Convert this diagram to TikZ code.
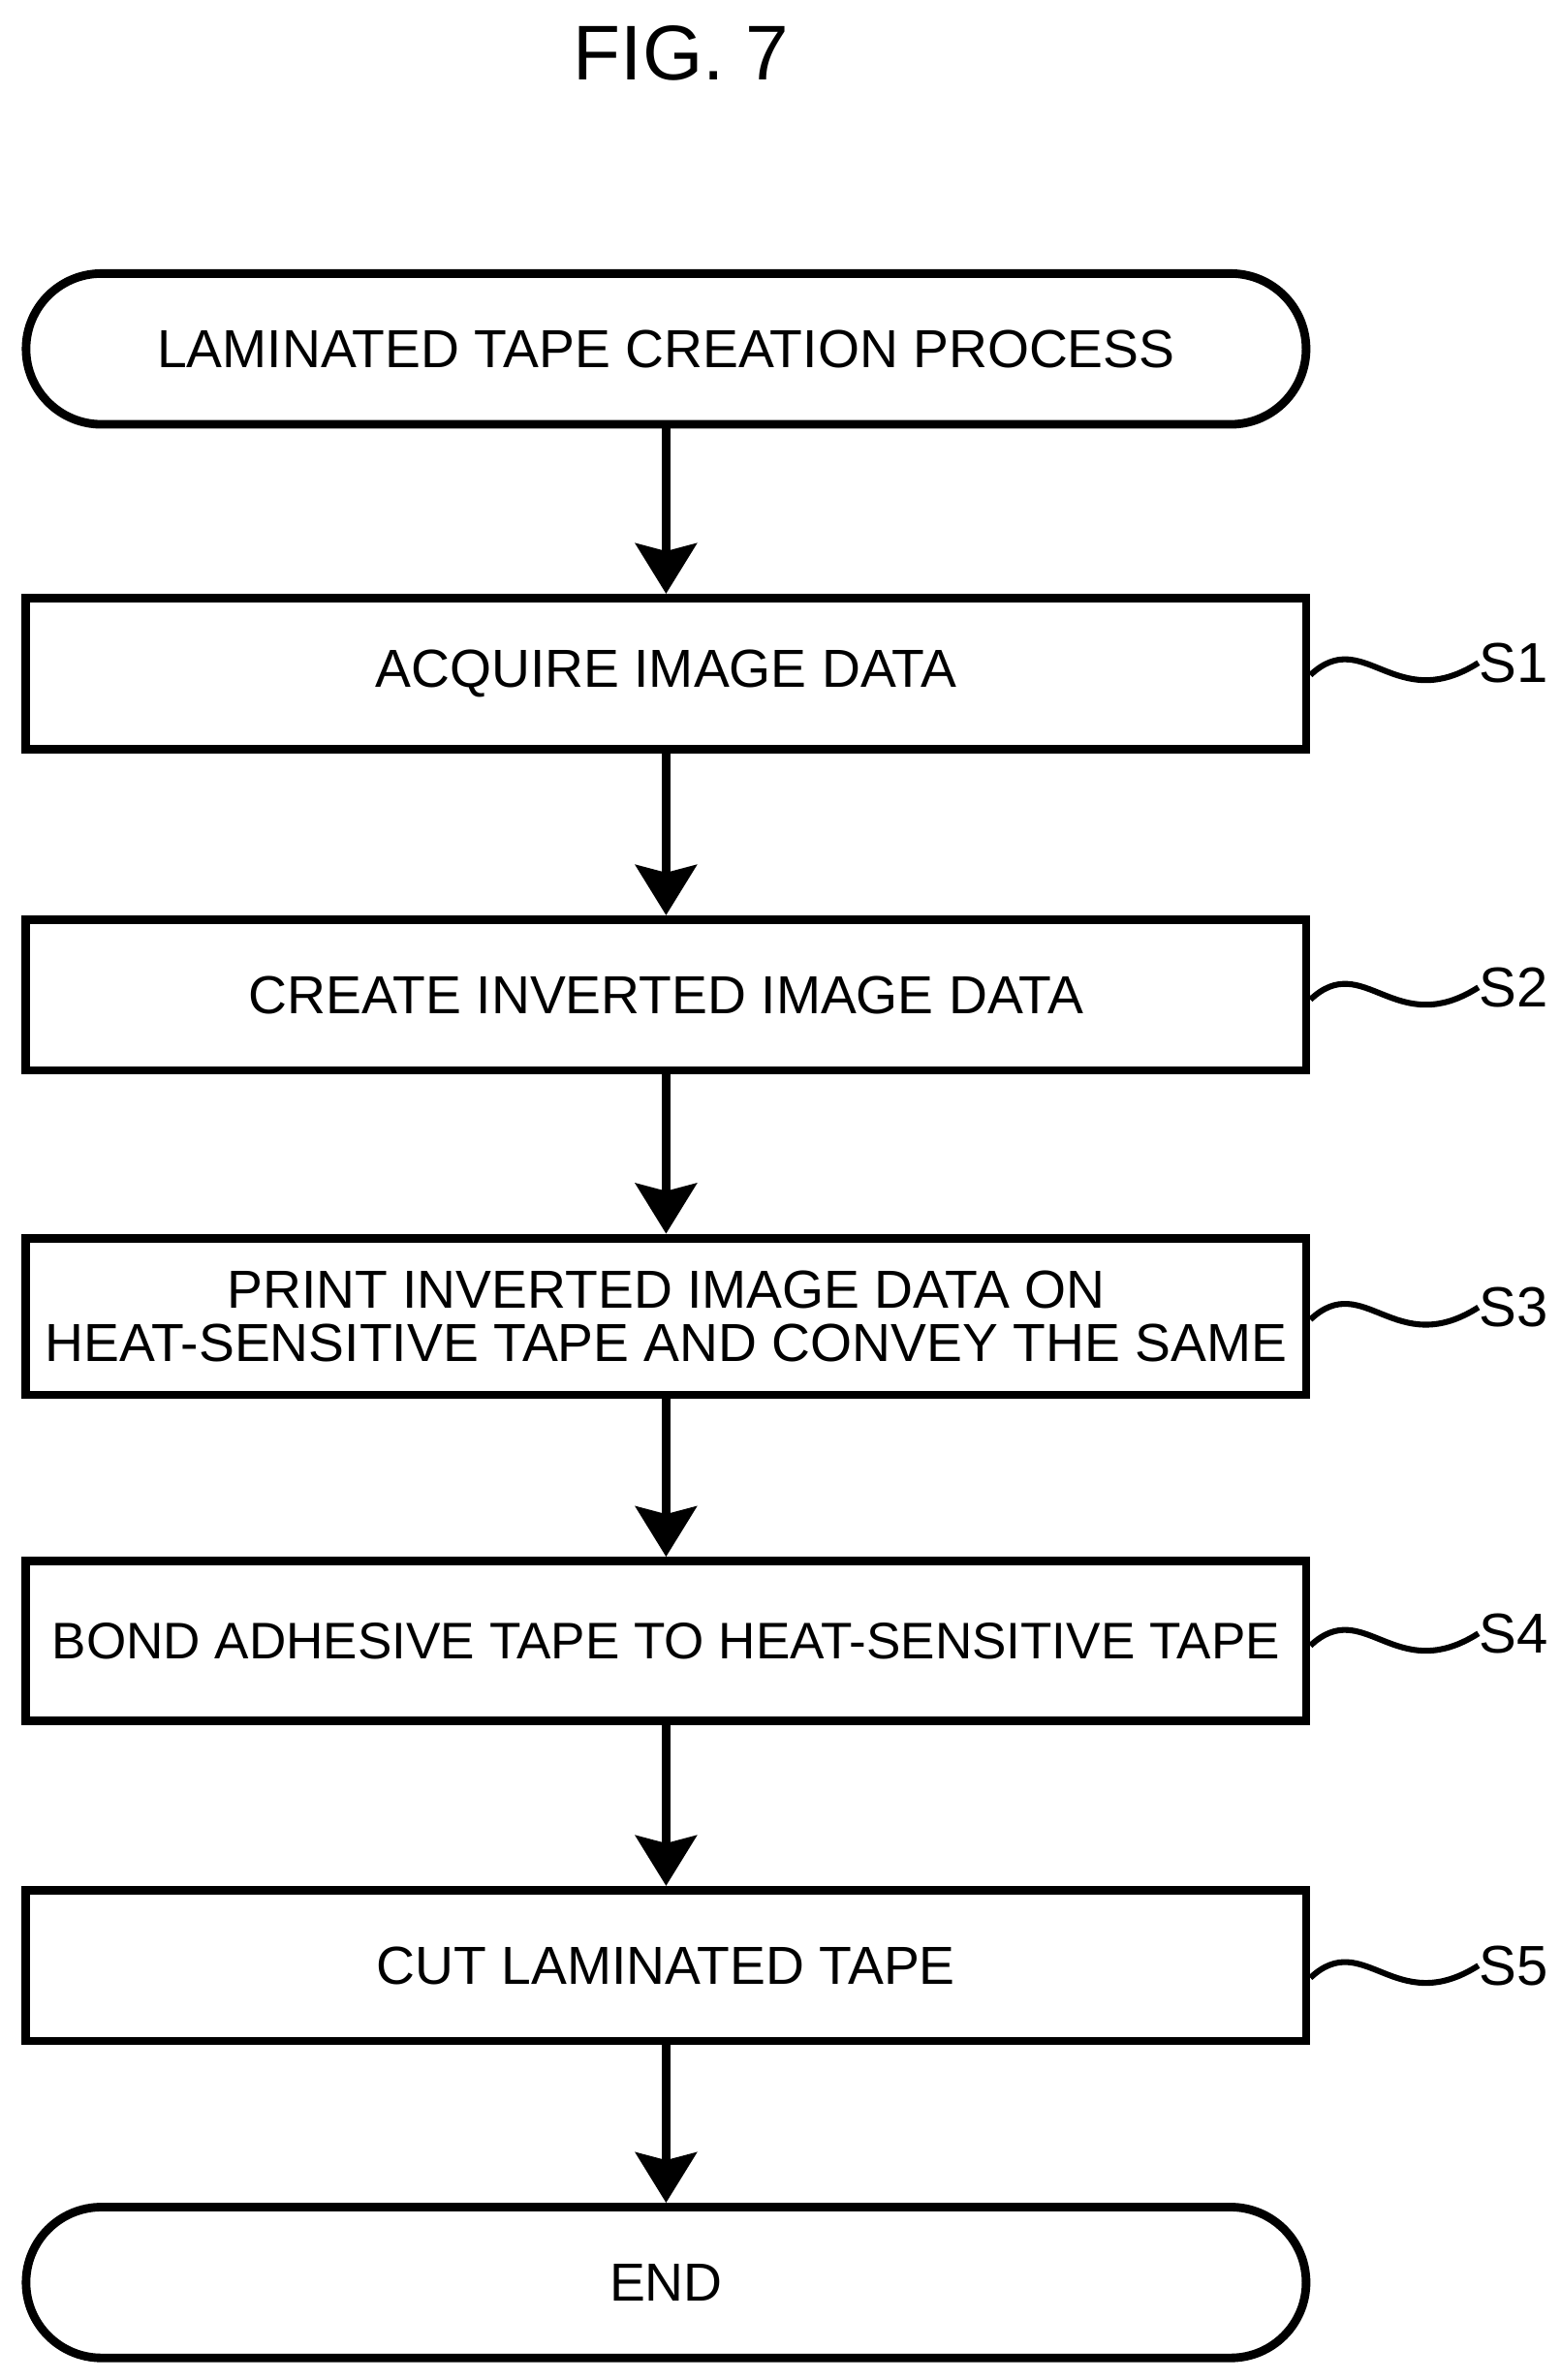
\documentclass[tikz,border=0pt]{standalone}
\usepackage{fontspec}
\setmainfont{Liberation Sans}
\usetikzlibrary{arrows.meta}
\begin{document}
\begin{tikzpicture}[x=0.02cm,y=-0.02cm,
  box/.style={draw,line width=3.2pt,minimum width=16.8cm,minimum height=1.98cm,font=\fontsize{20}{22}\selectfont,align=center,inner sep=0pt},
  term/.style={box,rounded corners=0.99cm},
  arr/.style={line width=3.2pt,-{Stealth[width=0.8cm,length=0.66cm,inset=0.1cm]}},
  lab/.style={font=\fontsize{21}{23}\selectfont,anchor=west,inner sep=0pt},
  sq/.style={line width=2.2pt}]
\useasboundingbox (0,0) rectangle (1024,1562);
\node[font=\fontsize{29}{32}\selectfont] (fig) at (447,35) {FIG. 7};
\node[term] (st) at (437,229) {LAMINATED TAPE CREATION PROCESS};
\node[box] (s1) at (437,442) {ACQUIRE IMAGE DATA};
\node[box] (s2) at (437,653) {CREATE INVERTED IMAGE DATA};
\node[box,minimum height=2.06cm] (s3) at (437,864) {PRINT INVERTED IMAGE DATA ON\\[-2pt]HEAT-SENSITIVE TAPE AND CONVEY THE SAME};
\node[box,minimum height=2.1cm,font=\fontsize{19.2}{21}\selectfont] (s4) at (437,1077) {BOND ADHESIVE TAPE TO HEAT-SENSITIVE TAPE};
\node[box] (s5) at (437,1290) {CUT LAMINATED TAPE};
\node[term] (en) at (437,1498) {END};
\foreach \a/\b in {st/s1,s1/s2,s2/s3,s3/s4,s4/s5,s5/en}
  \draw[arr] (\a.south) -- (\b.north);
\foreach \n/\t/\y in {s1/S1/435,s2/S2/648,s3/S3/858,s4/S4/1072,s5/S5/1290}{
  \node[lab] (l\n) at (970,\y) {\t};
  \draw[sq] (\n.east |- 0,\y+8) .. controls (895,\y-25) and (915,\y+35) .. (l\n.west);
}
\end{tikzpicture}
\end{document}
